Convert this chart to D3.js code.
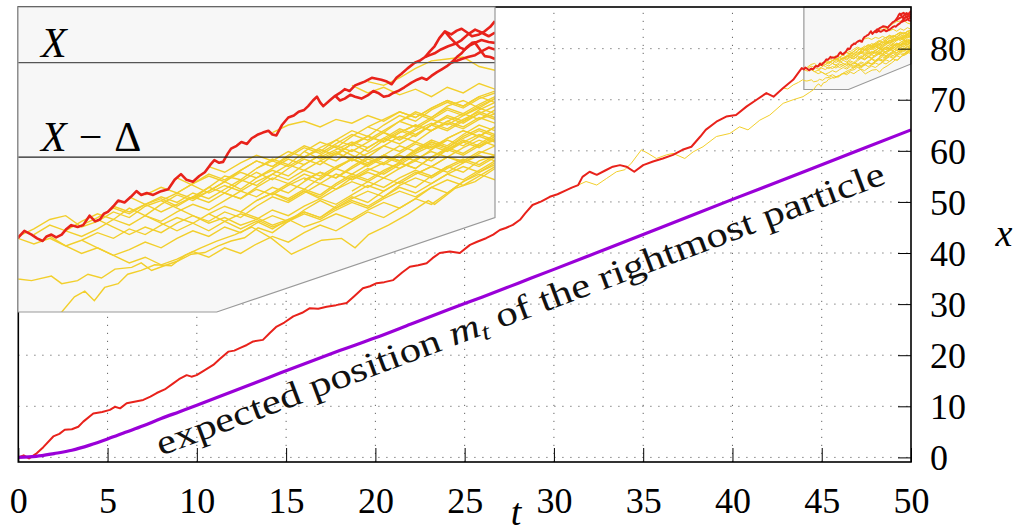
<!DOCTYPE html>
<html><head><meta charset="utf-8">
<script src="https://cdn.jsdelivr.net/npm/d3@7"></script>
<style>body{margin:0;background:#fff}svg{display:block}</style>
</head><body>
<svg id="c" width="1018" height="532"></svg>
<script>
// ---------------- data ----------------
const xTickValues = [0,5,10,15,20,25,30,35,40,45,50];
const yTickValues = [0,10,20,30,40,50,60,70,80];
const xLevel = 85.2, delta = 5.0;

// expected position m_t
const purpleT = [0,1,2,3,4,5,6,7,8,9,10,12,14,16,18,20,22,24,26,28,30,33,36,40,44,47,50];
const purpleV = [0,0.2,0.75,1.4,2.4,3.6,4.9,6.2,7.6,8.9,10.2,12.9,15.6,18.3,20.9,23.4,26.1,28.8,31.4,34.1,36.8,40.9,45.0,50.5,55.9,60.0,64.1];

// main red trajectory [t, x]
const redMain = [[0,0],[0.3,0.4],[0.6,-0.2],[1.03,0.8],[1.4,2.0],[1.96,4.1],[2.3,4.6],[2.6,5.4],[3.0,5.5],[3.36,6.0],[3.64,7.0],[4.2,8.6],[4.7,8.9],[5.13,9.3],[5.41,9.9],[5.7,9.6],[6.07,10.6],[6.5,10.9],[7.0,11.25],[7.4,11.9],[7.75,12.6],[8.2,13.3],[8.68,14.5],[9.0,15.3],[9.43,16.1],[9.7,15.8],[9.99,16.1],[10.4,17.0],[10.92,18.1],[11.3,19.3],[11.76,20.7],[12.1,20.9],[12.4,21.4],[12.8,22.0],[13.16,22.7],[13.7,23.0],[14.1,24.4],[14.47,25.6],[14.9,26.4],[15.4,27.6],[15.9,28.3],[16.33,29.2],[16.8,29.1],[17.27,29.5],[17.8,29.8],[18.39,30.2],[18.8,31.5],[19.3,33.1],[19.7,33.5],[20.07,34.1],[20.5,34.3],[21.0,34.7],[21.5,36.2],[21.93,37.3],[22.4,37.6],[22.87,38.0],[23.2,39.0],[23.6,40.0],[24.17,40.3],[24.73,40.0],[25.3,41.6],[25.7,42.2],[26.2,42.9],[26.6,43.6],[26.97,44.5],[27.3,44.9],[27.7,45.5],[28.1,46.5],[28.4,47.8],[28.8,49.4],[29.3,50.1],[29.77,51.0],[30.2,51.5],[30.7,52.3],[31.0,52.8],[31.36,53.3],[31.6,54.9],[32.0,55.9],[32.4,55.3],[32.9,56.2],[33.3,56.9],[33.7,57.2],[34.06,56.9],[34.5,55.9],[35.0,57.2],[35.55,57.9],[36.1,58.5],[36.67,59.2],[37.2,60.2],[37.7,60.8],[38.2,62.8],[38.5,64.1],[39.1,65.7],[39.65,66.7],[40.2,67.0],[40.8,68.7],[41.35,70.0],[41.9,71.3],[42.3,70.6],[42.84,72.3],[43.4,73.9],[43.88,76.2],
[44.0,75.93],[44.08,76.3],[44.17,76.1],[44.24,75.9],[44.31,75.76],[44.36,76.0],[44.42,76.1],[44.48,75.95],[44.55,76.1],[44.61,76.4],[44.67,76.6],[44.75,76.5],[44.82,76.6],[44.9,77.1],[44.97,76.8],[45.03,76.9],[45.08,77.2],[45.13,77.3],[45.2,77.6],[45.26,77.9],[45.34,77.8],[45.42,78.1],[45.49,78.4],[45.55,78.2],[45.62,78.3],[45.7,78.2],[45.8,78.4],[45.89,78.5],[45.97,79.0],[46.05,79.3],[46.12,79.0],[46.2,78.9],[46.28,79.2],[46.35,79.4],[46.42,79.8],[46.47,80.04],[46.53,79.9],[46.58,79.95],[46.64,80.4],[46.68,80.65],[46.75,80.8],[46.81,81.0],[46.88,80.9],[46.94,81.2],[47.02,81.4],[47.08,81.5],[47.15,81.6],[47.2,81.4],[47.25,81.35],[47.32,81.9],[47.4,82.3],[47.47,82.4],[47.53,82.6],[47.6,82.7],[47.65,82.9],[47.71,83.2],[47.76,83.4],[47.8,83.1],[47.84,82.9],[47.92,83.2],[47.99,83.45],[48.05,83.6],[48.11,83.8],[48.17,83.7],[48.24,84.0],[48.3,84.1],[48.36,84.2],[48.45,84.4],[48.57,84.3],[48.64,84.2],[48.7,84.06],[48.76,84.4],[48.82,84.6],[48.9,84.9],[48.99,85.2],[49.05,85.3],[49.12,85.5],[49.18,85.8],[49.24,86.07],[49.3,86.5],[49.37,86.86],[49.45,86.7],[49.52,86.9],[49.58,87.0],[49.65,86.8],[49.71,86.6],[49.8,86.7],[49.87,86.86],[49.94,87.1],[50.0,87.4]];

// red branches near the end
const redBranch1 = [[47.99,83.45],[48.05,83.2],[48.11,83.3],[48.18,83.5],[48.24,83.4],[48.32,83.3],[48.41,83.5],[48.47,83.7],[48.53,83.6],[48.6,83.4],[48.66,83.45],[48.72,83.6],[48.78,83.7],[48.86,83.9],[48.95,84.15],[49.02,84.3],[49.08,84.4],[49.14,84.3],[49.2,84.5],[49.27,84.7],[49.33,84.85],[49.39,85.0],[49.45,85.2],[49.52,85.3],[49.58,85.4],[49.66,85.5],[49.75,85.6],[49.83,85.8],[49.92,86.0],[50.0,85.9]];
const redBranch2 = [[49.37,86.86],[49.44,86.5],[49.5,86.25],[49.56,86.0],[49.62,85.9],[49.68,86.1],[49.75,86.25],[49.81,85.9],[49.87,85.55],[49.94,85.5],[50.0,85.4]];
const redBranch3 = [[49.12,85.5],[49.18,85.6],[49.24,85.7],[49.32,85.9],[49.41,86.07],[49.5,86.2],[49.58,86.4],[49.66,86.7],[49.75,86.95],[49.83,86.8],[49.92,86.6],[50.0,86.8]];
const redBranch4 = [[49.45,85.2],[49.52,85.5],[49.58,85.7],[49.64,86.0],[49.71,86.25],[49.77,86.3],[49.83,86.4],[49.92,86.3],[50.0,86.25]];

// yellow trajectories leaving the red one in the main plot
const yellowA = [[31.36,53.3],[31.8,54.0],[32.4,53.3],[32.95,54.6],[33.5,55.9],[33.97,56.3],[34.34,57.6],[34.9,60.2],[35.27,59.5],[35.74,58.5],[36.3,59.2],[36.67,59.5],[37.33,58.5],[37.8,59.8],[38.35,60.8],[39.1,62.8],[39.85,63.4],[40.4,64.7],[40.87,64.1],[41.53,66.0],[42.09,67.0],[42.84,69.3],[43.4,70.0],[43.95,70.6],[44.3,71.4],[44.55,72.0],[44.71,72.8],[44.84,73.1],[44.96,72.6],[45.09,73.3],[45.26,73.5],[45.38,74.0],[45.55,74.2],[45.72,74.5],[45.93,74.45],[46.1,75.0],[46.3,75.4],[46.5,75.75],[46.73,76.1],[46.94,76.5],[47.19,75.9],[47.44,75.06],[47.61,75.4],[47.82,75.8],[48.07,75.9],[48.24,75.4],[48.41,76.1],[48.66,76.6],[48.91,77.2],[49.16,77.9],[49.24,77.7],[49.5,78.55],[49.75,78.9],[50.0,79.6]];
const yellowB = [[42.84,72.3],[43.1,72.1],[43.4,72.9],[43.7,73.4],[43.93,73.9],[44.0,73.75],[44.17,73.66],[44.42,73.9],[44.55,73.5],[44.75,73.66],[44.88,74.0],[45.05,73.8],[45.22,74.27],[45.43,74.36],[45.55,74.6],[45.68,74.2],[45.84,74.45],[46.01,74.7],[46.18,75.06],[46.35,75.15],[46.52,75.5],[46.68,75.76],[46.85,75.93],[47.02,76.46],[47.2,76.2],[47.4,76.8],[47.6,77.3],[47.8,77.0],[48.0,77.6],[48.2,78.1],[48.4,77.8],[48.6,78.4],[48.8,78.9],[49.0,78.6],[49.2,79.2],[49.4,79.7],[49.6,79.4],[49.8,80.0],[50.0,80.3]];

// yellow trajectories in the zoomed window, sampled every 0.2 from t = 44
const gridT0 = 44, gridStep = 0.2;
const yellowStarts = [0,0,1,2,3,4,5,6,7,8,22,21,16,12,10,4,9,13,15,17,18,19,20,14,22,11,
                      15,18,20,23,16,12,10,24,25,19,21,8];
const yellowValues = [
[76.0,76.4,76.9,77.1,76.5,76.8,77.3,77.0,77.6,77.9,78.3,78.0,78.6,79.2,79.0,79.6,80.1,79.8,80.5,81.0,80.7,81.3,81.8,81.5,82.1,82.6,82.3,82.9,83.2,82.8,83.3],
[75.9,75.6,75.9,75.5,75.8,76.2,75.9,76.4,76.1,76.6,77.0,76.7,77.2,77.6,77.3,77.9,78.3,78.0,78.5,78.2,78.8,79.3,79.0,79.5,79.9,79.6,80.2,80.6,80.3,80.8,81.1],
[76.1,76.6,76.3,76.8,77.2,76.9,77.5,77.1,77.7,78.2,77.9,78.4,78.9,78.5,79.1,79.5,79.2,79.8,80.3,80.0,80.6,80.2,80.8,81.3,81.0,81.6,82.0,81.7,82.2,82.5],
[76.0,75.5,75.1,75.4,75.0,75.3,75.7,75.4,75.9,76.3,76.0,76.5,76.2,76.7,77.1,76.8,77.4,77.9,77.5,78.0,78.4,78.1,78.7,79.1,78.8,79.3,79.7,79.4,79.9],
[76.3,76.0,76.4,76.9,76.6,77.1,76.8,77.3,77.7,77.4,77.9,78.4,78.1,78.6,78.3,78.9,79.4,79.1,79.7,80.2,79.9,80.4,80.9,80.6,81.2,81.6,81.3,81.8],
[76.6,77.0,77.5,77.2,77.7,78.0,77.6,78.1,78.6,78.3,78.9,79.4,79.0,79.6,80.1,79.8,80.4,80.9,80.5,81.1,81.6,81.3,81.9,82.4,82.1,82.7,83.1],
[76.9,76.5,76.1,76.5,76.2,76.7,77.1,76.8,77.3,77.0,77.6,78.1,77.8,78.3,78.8,78.5,79.1,79.6,79.3,79.8,80.3,80.0,80.6,81.0,80.7,81.2],
[77.6,77.3,77.7,78.1,77.8,78.3,78.0,78.5,79.0,78.7,79.3,79.8,79.5,80.0,80.4,80.1,80.7,81.2,80.9,81.4,81.9,81.6,82.1,82.5,82.2],
[78.1,77.7,77.3,77.7,78.1,77.8,78.3,78.0,78.6,79.1,78.8,79.3,79.0,79.6,80.1,79.8,80.3,80.8,80.5,81.0,80.7,81.3,81.7,81.4],
[78.2,78.6,78.3,78.8,79.2,78.9,79.5,80.0,79.7,80.3,80.8,80.5,81.1,81.6,81.3,81.9,82.4,82.1,82.7,83.1,82.8,83.3,83.6],
[84.2,84.0,84.4,84.9,85.3,85.4,85.5,85.0,84.8,84.4],
[84.0,83.6,83.9,83.5,83.8,83.4,83.9,83.6,84.1,83.8],
[81.5,81.9,82.1,81.8,82.2,82.0,82.4,82.1,82.6,82.3,82.8,83.2,82.9,83.4,83.1],
[79.7,79.4,79.9,80.3,80.0,80.5,80.2,80.7,81.1,80.8,81.3,81.0,81.5,81.9,81.6,82.1,81.8,82.3,82.0],
[79.1,78.7,78.3,78.7,78.4,78.9,79.3,79.0,79.5,79.2,79.7,80.1,79.8,80.3,80.0,80.5,80.9,80.6,81.1,80.8,81.3],
[75.8,75.4,75.0,74.6,74.9,74.5,74.8,75.2,74.9,75.4,75.1,75.6,76.0,75.7,76.2,76.6,76.3,76.8,77.3,77.0,77.5,78.0,77.7,78.3,78.9,79.3,79.0],
[77.9,77.5,77.1,76.7,77.0,76.6,76.9,76.5,76.8,77.2,76.9,77.4,77.8,77.5,78.0,78.4,78.1,78.6,79.0,78.7,79.2,79.7],
[78.3,78.0,78.5,78.2,78.7,79.1,78.8,79.3,79.0,79.5,79.9,79.6,80.1,80.5,80.2,80.7,81.1,80.8],
[79.6,80.0,79.7,80.2,80.6,80.3,80.9,81.3,81.0,81.5,81.9,81.6,82.1,82.5,82.2,82.7],
[77.9,78.4,78.1,78.7,79.2,78.9,79.4,79.9,79.6,80.2,80.7,80.4,80.9,81.4],
[80.5,80.1,80.5,80.0,80.4,80.8,80.5,81.0,80.7,81.2,81.6,81.3,81.8],
[80.2,80.6,81.0,80.7,81.2,81.7,81.4,81.9,82.3,82.0,82.5,82.9],
[79.3,79.0,79.4,79.1,79.6,80.0,79.7,80.2,80.0,80.5,80.3],
[77.3,77.0,76.6,76.9,76.5,76.8,77.2,76.9,77.4,77.8,77.5,78.0,78.6,78.3,78.9,79.4,79.8],
[81.8,82.2,82.6,82.3,82.8,83.2,82.9,83.4,83.7],
[78.0,78.4,78.9,79.4,79.1,79.6,80.1,79.8,80.3,80.8,80.5,81.0,81.5,81.2,81.7,82.2,81.9,82.4,82.8,82.5],
[77.9,78.3,78.8,78.5,79.1,79.6,79.3,79.8,80.3,80.0,80.6,81.1,80.8,81.4,81.9,81.6],
[79.0,79.4,79.1,79.6,80.1,79.8,80.3,80.0,80.6,81.1,80.8,81.3,81.0],
[80.7,80.3,79.9,80.3,80.0,80.5,81.0,80.7,81.2,81.6,81.3],
[81.5,81.1,81.6,82.0,81.7,82.2,82.6,82.3],
[78.3,77.9,78.4,78.0,78.5,78.9,78.6,79.1,78.8,79.3,79.7,79.4,79.9,80.3,80.0],
[77.2,76.8,76.4,76.8,76.4,76.9,77.3,77.0,77.5,77.9,77.6,78.1,78.6,78.3,78.8,79.3,79.0,79.5,80.0],
[78.3,78.8,79.3,79.0,79.5,80.0,79.7,80.2,80.7,80.4,80.9,81.4,81.1,81.6,82.1,81.8,82.3,82.8,82.5,83.0,83.4],
[82.1,82.5,82.2,82.7,82.4,82.9,83.3],
[79.3,79.7,80.2,79.9,80.4,80.8],
[80.0,79.6,80.1,79.7,80.2,79.9,80.4,80.8,80.5,81.0,81.4,81.1],
[78.4,78.9,78.6,79.1,79.5,79.2,79.7,80.1,79.8,80.3],
[77.1,76.7,76.3,76.7,76.3,76.8,77.2,76.9,77.4,77.1,77.6,78.0,77.7,78.2,78.7,78.4,78.9,79.4,79.1,79.6,80.0,79.7,80.2]
];

// zoom window outline [t, x]
const windowShape = [[44,88.15],[50,88.15],[50,77],[46.5,72],[44,72]];

// ---------------- drawing ----------------
const FONT = "'Liberation Serif', 'DejaVu Serif', serif";
const svg = d3.select("#c");
const x = d3.scaleLinear().domain([0,50]).range([18.3,911]);
const y = d3.scaleLinear().domain([-0.9,88.15]).range([462,7]);
const xi = d3.scaleLinear().domain([44,50]).range([18,495]);
const yi = d3.scaleLinear().domain([72,88.15]).range([312,7]);

const RED = "#e8221b", YEL = "#f2cf2c", PUR = "#9a00d8";

const yellowGrid = yellowValues.map((vals,k) => vals.map((v,j) => [gridT0 + (yellowStarts[k]+j)*gridStep, v]));
const yellowAll = [yellowA, yellowB, ...yellowGrid];
const redAll = [redMain, redBranch1, redBranch2, redBranch3, redBranch4];

svg.append("defs").append("clipPath").attr("id","plotClip")
  .append("rect").attr("x",x(0)).attr("y",y(88.15)).attr("width",x(50)-x(0)).attr("height",y(-0.9)-y(88.15));

// grid
const grid = svg.append("g").attr("stroke","#666").attr("stroke-width",1).attr("stroke-dasharray","1.2,6.8");
grid.selectAll(".gv").data(xTickValues.filter(d=>d>0&&d<50)).join("line")
  .attr("x1",d=>x(d)).attr("x2",d=>x(d)).attr("y1",y(-0.9)).attr("y2",y(88.15));
grid.selectAll(".gh").data(yTickValues).join("line")
  .attr("y1",d=>y(d)).attr("y2",d=>y(d)).attr("x1",x(0)).attr("x2",x(50));

// small window in main plot
const lineMain = d3.line().x(d=>x(d[0])).y(d=>y(d[1]));
svg.append("path").attr("d", lineMain(windowShape)+"Z").attr("fill","#f7f7f7").attr("stroke","#999").attr("stroke-width",1.2);

const main = svg.append("g").attr("clip-path","url(#plotClip)");
main.selectAll(".y").data(yellowAll).join("path").attr("d",lineMain)
  .attr("fill","none").attr("stroke",YEL).attr("stroke-width",1);
main.selectAll(".r").data(redAll).join("path").attr("d",lineMain)
  .attr("fill","none").attr("stroke",RED).attr("stroke-width",2).attr("stroke-linejoin","round");

// purple curve
const purpleData = purpleT.map((t,i)=>[t,purpleV[i]]);
main.append("path").attr("d", d3.line().x(d=>x(d[0])).y(d=>y(d[1])).curve(d3.curveMonotoneX)(purpleData))
  .attr("fill","none").attr("stroke",PUR).attr("stroke-width",3.2);

// label along the curve
const lab = svg.append("text").attr("transform","translate(161,456) rotate(-20.6)")
  .attr("font-family",FONT).attr("font-size",35).attr("fill","#111");
lab.append("tspan").text("expected position ");
lab.append("tspan").attr("font-style","italic").text("m");
lab.append("tspan").attr("font-style","italic").attr("font-size",24).attr("dy",6).text("t");
lab.append("tspan").attr("dy",-6).text(" of the rightmost particle");
lab.attr("textLength",776).attr("lengthAdjust","spacingAndGlyphs");

// axes
const ax = svg.append("g").attr("transform",`translate(0,${y(-0.9)})`)
  .call(d3.axisBottom(x).tickValues(xTickValues).tickSizeInner(-14).tickSizeOuter(0).tickFormat(d3.format("d")));
ax.select(".domain").remove();
ax.selectAll("line").attr("stroke","#000");
ax.selectAll("text").attr("y",51).attr("dy",0).attr("font-size",36).attr("font-family",FONT).attr("fill","#000");

const ay = svg.append("g").attr("transform",`translate(${x(50)},0)`)
  .call(d3.axisRight(y).tickValues(yTickValues).tickSizeInner(-13).tickSizeOuter(0).tickFormat(d3.format("d")));
ay.select(".domain").remove();
ay.selectAll("line").attr("stroke","#000");
ay.selectAll("text").attr("x",19).attr("dy","0.34em").attr("font-size",36).attr("font-family",FONT).attr("fill","#000");

// frame
svg.append("rect").attr("x",x(0)).attr("y",y(88.15)).attr("width",x(50)-x(0)).attr("height",y(-0.9)-y(88.15))
  .attr("fill","none").attr("stroke","#000").attr("stroke-width",1.6);

// axis titles
svg.append("text").attr("x",516).attr("y",525).attr("text-anchor","middle").attr("font-family",FONT)
  .attr("font-style","italic").attr("font-size",38).text("t");
svg.append("text").attr("x",1004).attr("y",246).attr("text-anchor","middle").attr("font-family",FONT)
  .attr("font-style","italic").attr("font-size",38).text("x");

// ---------------- inset ----------------
const lineIn = d3.line().x(d=>xi(d[0])).y(d=>yi(d[1]));
svg.select("defs").append("clipPath").attr("id","insetClip").append("path").attr("d", lineIn(windowShape)+"Z");
const inset = svg.append("g");
inset.append("path").attr("d", lineIn(windowShape)+"Z").attr("fill","#f7f7f7");
const ic = inset.append("g").attr("clip-path","url(#insetClip)");
ic.selectAll(".y").data(yellowAll).join("path").attr("d",lineIn)
  .attr("fill","none").attr("stroke",YEL).attr("stroke-width",1.4);
ic.selectAll(".r").data(redAll).join("path").attr("d",lineIn)
  .attr("fill","none").attr("stroke",RED).attr("stroke-width",2.6).attr("stroke-linejoin","round");
ic.append("line").attr("x1",xi(44)).attr("x2",xi(50)).attr("y1",yi(xLevel)).attr("y2",yi(xLevel))
  .attr("stroke","#555").attr("stroke-width",1.3);
ic.append("line").attr("x1",xi(44)).attr("x2",xi(50)).attr("y1",yi(xLevel-delta)).attr("y2",yi(xLevel-delta))
  .attr("stroke","#222").attr("stroke-width",1.3);
inset.append("path").attr("d", lineIn(windowShape)+"Z").attr("fill","none").attr("stroke","#999").attr("stroke-width",1.2);

const tX = inset.append("text").attr("x",41).attr("y",57).attr("font-family",FONT).attr("font-size",42);
tX.append("tspan").attr("font-style","italic").text("X");
const tXD = inset.append("text").attr("x",41).attr("y",151).attr("font-family",FONT).attr("font-size",42);
tXD.append("tspan").attr("font-style","italic").text("X");
tXD.append("tspan").attr("dx",12).text("\u2212");
tXD.append("tspan").attr("dx",12).text("\u0394");
</script>
</body></html>
